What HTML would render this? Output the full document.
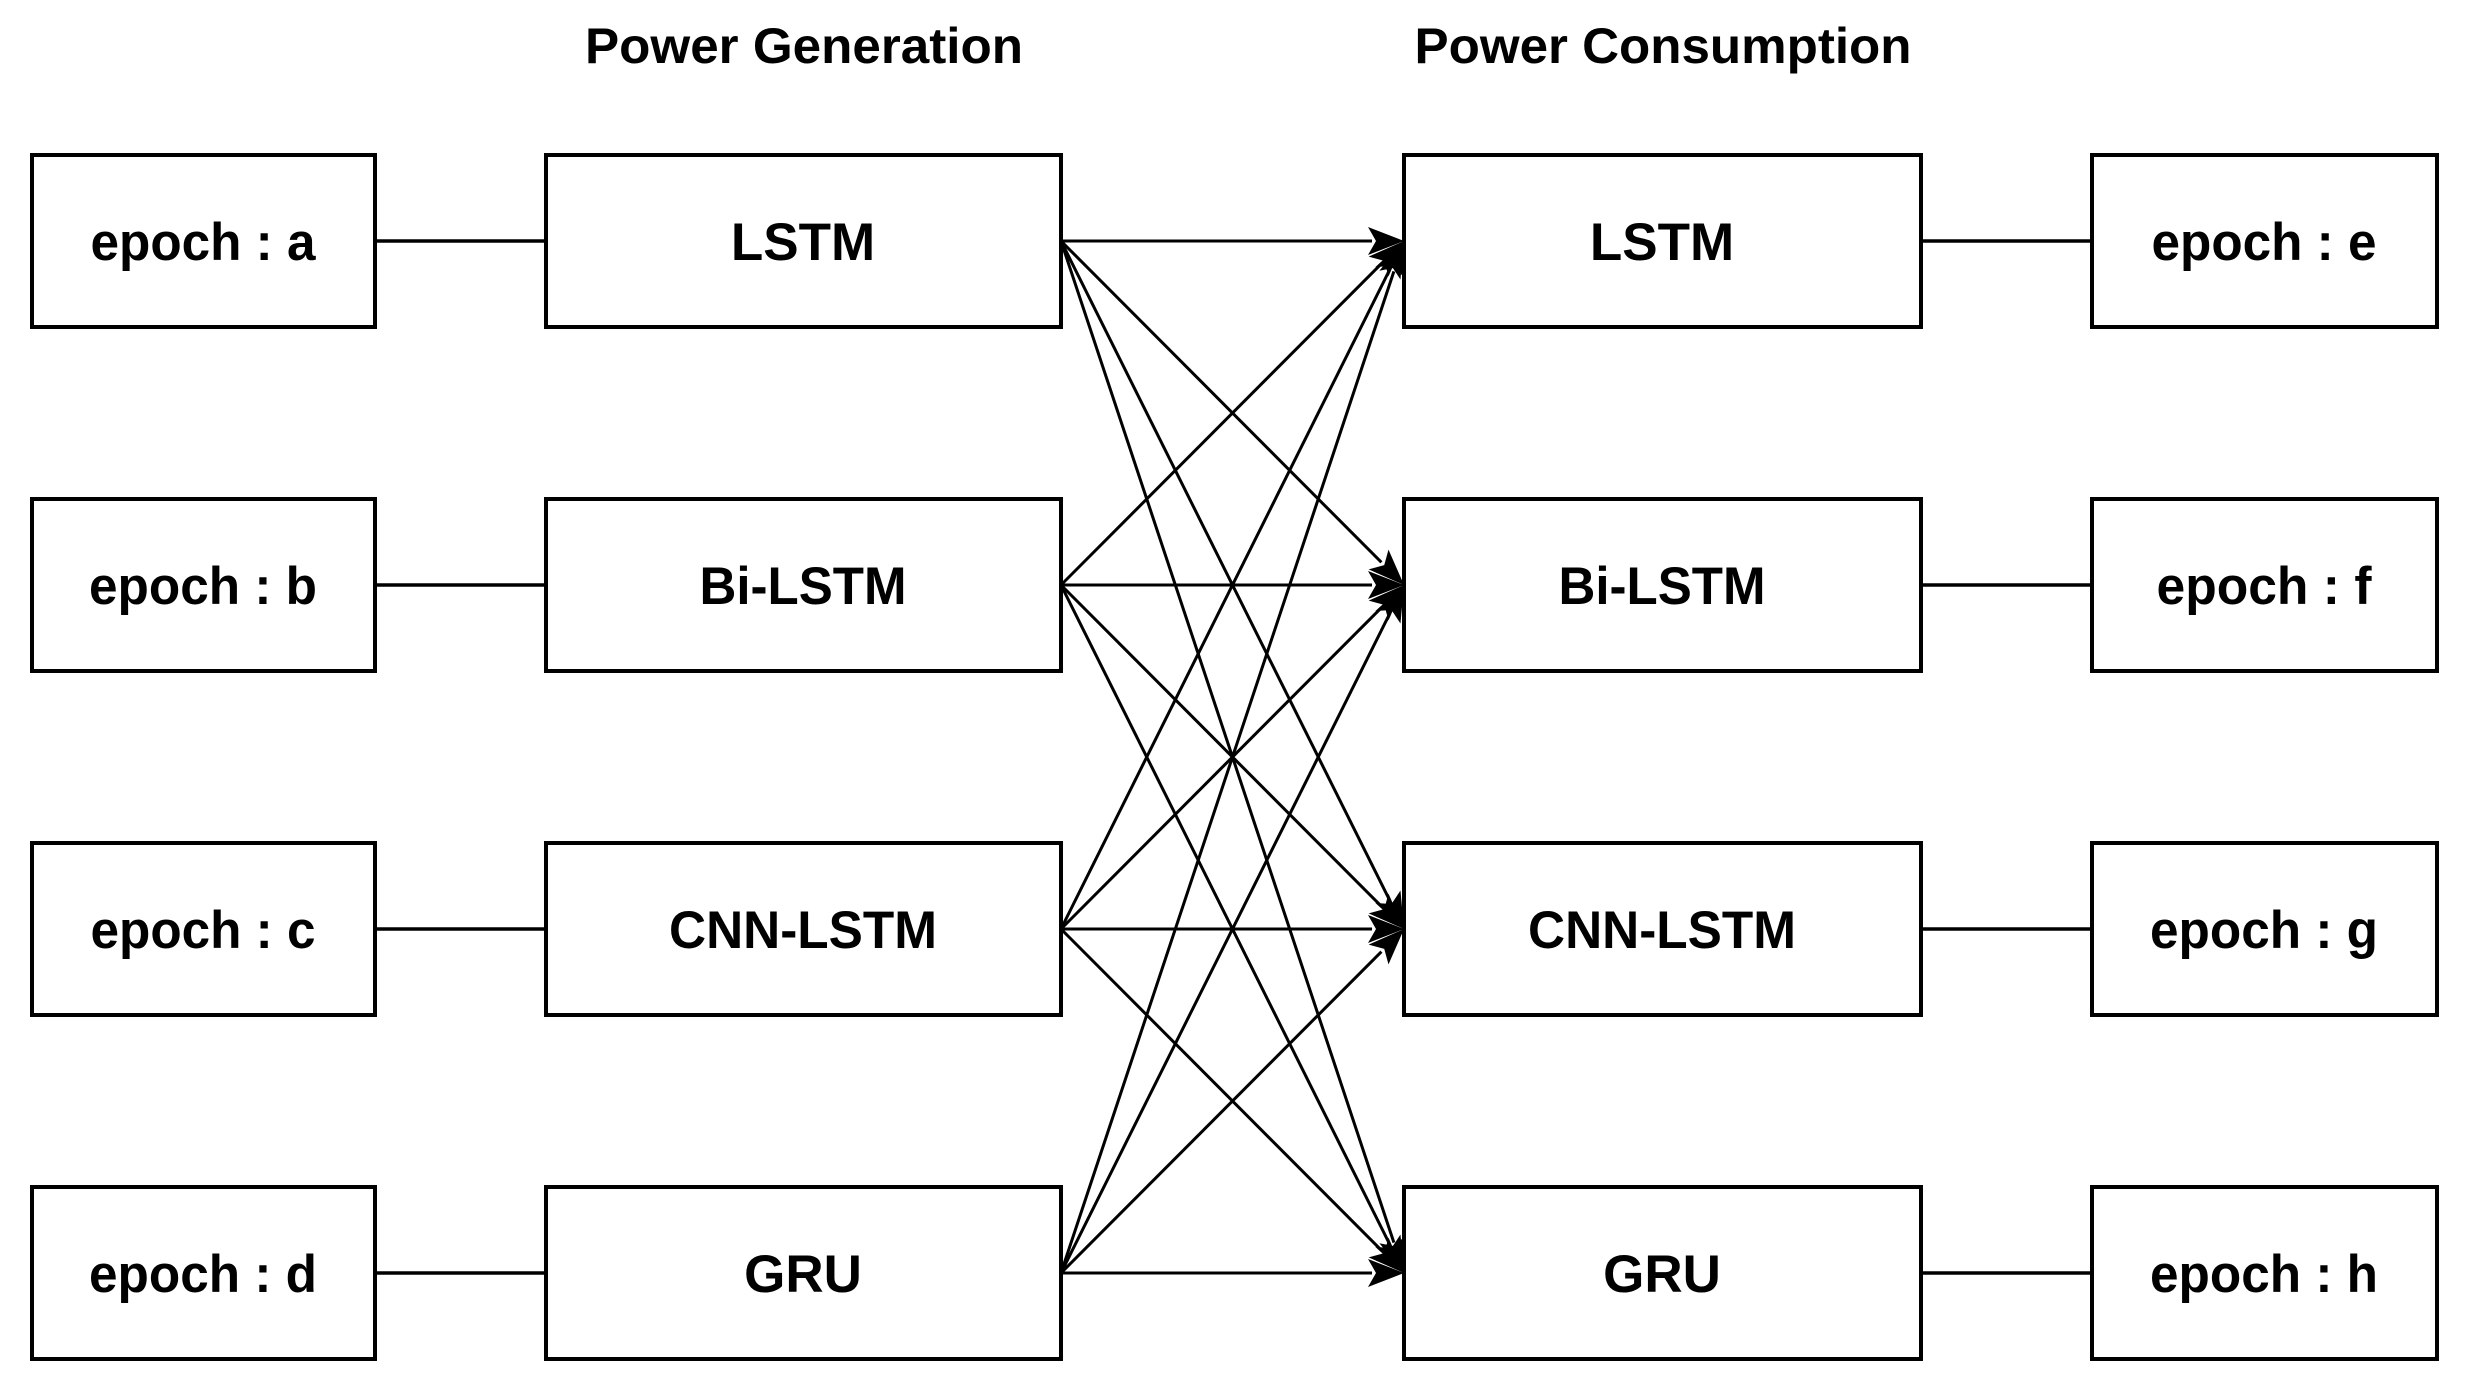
<!DOCTYPE html>
<html><head><meta charset="utf-8"><style>
html,body{margin:0;padding:0;background:#fff;}
svg{display:block;}
text{font-family:"Liberation Sans",Arial,sans-serif;font-weight:bold;fill:#000;}
</style></head><body>
<svg width="2469" height="1390" viewBox="0 0 2469 1390" xmlns="http://www.w3.org/2000/svg">
<g fill="#fff" stroke="#000" stroke-width="4">
<rect x="32" y="155" width="343" height="172"/>
<rect x="546" y="155" width="515" height="172"/>
<rect x="1404" y="155" width="517" height="172"/>
<rect x="2092" y="155" width="345" height="172"/>
<rect x="32" y="499" width="343" height="172"/>
<rect x="546" y="499" width="515" height="172"/>
<rect x="1404" y="499" width="517" height="172"/>
<rect x="2092" y="499" width="345" height="172"/>
<rect x="32" y="843" width="343" height="172"/>
<rect x="546" y="843" width="515" height="172"/>
<rect x="1404" y="843" width="517" height="172"/>
<rect x="2092" y="843" width="345" height="172"/>
<rect x="32" y="1187" width="343" height="172"/>
<rect x="546" y="1187" width="515" height="172"/>
<rect x="1404" y="1187" width="517" height="172"/>
<rect x="2092" y="1187" width="345" height="172"/>
</g>
<g stroke="#000" stroke-width="3.5">
<line x1="375" y1="241" x2="546" y2="241"/><line x1="1921" y1="241" x2="2092" y2="241"/>
<line x1="375" y1="585" x2="546" y2="585"/><line x1="1921" y1="585" x2="2092" y2="585"/>
<line x1="375" y1="929" x2="546" y2="929"/><line x1="1921" y1="929" x2="2092" y2="929"/>
<line x1="375" y1="1273" x2="546" y2="1273"/><line x1="1921" y1="1273" x2="2092" y2="1273"/>
</g>
<g id="arrows" stroke="#000" stroke-width="3" fill="#000"></g>
<script>
(function(){
var ys=[241,585,929,1273],g=document.getElementById('arrows'),ns='http://www.w3.org/2000/svg';
var x1=1061,x2=1404;
ys.forEach(function(a){ys.forEach(function(b){
 var dx=x2-x1,dy=b-a,L=Math.sqrt(dx*dx+dy*dy),ux=dx/L,uy=dy/L,len=36,w=14;
 var bx=x2-ux*len,by=b-uy*len;
 var l=document.createElementNS(ns,'line');
 l.setAttribute('x1',x1);l.setAttribute('y1',a);l.setAttribute('x2',bx+ux*4);l.setAttribute('y2',by+uy*4);g.appendChild(l);
 var p=document.createElementNS(ns,'polygon');
 p.setAttribute('points',x2+','+b+' '+(bx-uy*w)+','+(by+ux*w)+' '+(bx+ux*8)+','+(by+uy*8)+' '+(bx+uy*w)+','+(by-ux*w));
 p.setAttribute('stroke','none');g.appendChild(p);
});});
})();
</script>
<g font-size="50" text-anchor="middle">
<text x="804" y="63" textLength="438" lengthAdjust="spacingAndGlyphs">Power Generation</text>
<text x="1663" y="63" textLength="497" lengthAdjust="spacingAndGlyphs">Power Consumption</text>
</g>
<g font-size="53" text-anchor="middle">
<text x="203" y="260" textLength="225" lengthAdjust="spacingAndGlyphs">epoch : a</text>
<text x="803" y="260">LSTM</text>
<text x="1662" y="260">LSTM</text>
<text x="2264" y="260" textLength="225" lengthAdjust="spacingAndGlyphs">epoch : e</text>
<text x="203" y="604" textLength="228" lengthAdjust="spacingAndGlyphs">epoch : b</text>
<text x="803" y="604" textLength="207" lengthAdjust="spacingAndGlyphs">Bi-LSTM</text>
<text x="1662" y="604" textLength="207" lengthAdjust="spacingAndGlyphs">Bi-LSTM</text>
<text x="2264" y="604" textLength="215" lengthAdjust="spacingAndGlyphs">epoch : f</text>
<text x="203" y="948" textLength="225" lengthAdjust="spacingAndGlyphs">epoch : c</text>
<text x="803" y="948" textLength="268" lengthAdjust="spacingAndGlyphs">CNN-LSTM</text>
<text x="1662" y="948" textLength="268" lengthAdjust="spacingAndGlyphs">CNN-LSTM</text>
<text x="2264" y="948" textLength="228" lengthAdjust="spacingAndGlyphs">epoch : g</text>
<text x="203" y="1292" textLength="228" lengthAdjust="spacingAndGlyphs">epoch : d</text>
<text x="803" y="1292">GRU</text>
<text x="1662" y="1292">GRU</text>
<text x="2264" y="1292" textLength="228" lengthAdjust="spacingAndGlyphs">epoch : h</text>
</g>
</svg>
</body></html>
